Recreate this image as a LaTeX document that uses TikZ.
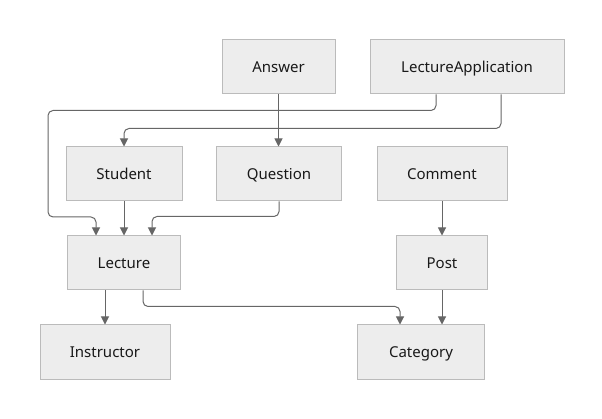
\documentclass[tikz,border=0pt]{standalone}
\usepackage{fontspec}
\setmainfont{Noto Sans}
\usetikzlibrary{arrows.meta}
\definecolor{bg}{HTML}{EDEDED}
\definecolor{bd}{HTML}{BBBBBB}
\definecolor{ln}{HTML}{666666}
\tikzset{
  ent/.style={draw=bd, fill=bg, line width=1pt, minimum height=54pt, inner sep=0pt,
    font=\fontsize{15}{17}\selectfont, text=black!90, text height=12pt, text depth=0.5pt},
  conn/.style={draw=ln, line width=1pt, -{Triangle[length=8pt,width=8pt]}, rounded corners=5pt}
}
\begin{document}
\begin{tikzpicture}[x=1pt,y=-1pt]
\useasboundingbox (0,0) rectangle (602,419);
\node[ent, minimum width=113pt] (answer) at (278.5,67) {Answer};
\node[ent, minimum width=194pt] (la) at (467,67) {LectureApplication};
\node[ent, minimum width=116pt] (student) at (124,174) {Student};
\node[ent, minimum width=125pt] (question) at (279,174) {Question};
\node[ent, minimum width=130pt] (comment) at (442,174) {Comment};
\node[ent, minimum width=113pt] (lecture) at (124,263) {Lecture};
\node[ent, minimum width=91pt] (post) at (442,263) {Post};
\node[ent, minimum width=130pt] (instructor) at (105,352) {Instructor};
\node[ent, minimum width=127pt] (category) at (421,352) {Category};
\coordinate (lbend) at (48,217);
\draw[conn] ([xshift=-31pt]la.south) -- ++(0,16) -| (lbend) -| ([xshift=-28pt]lecture.north);
\draw[conn] ([xshift=34pt]la.south) -- ++(0,34) -| (student.north);
\draw[conn] (answer.south) -- (answer.south |- question.north);
\draw[conn] (student.south) -- (lecture.north);
\draw[conn] (question.south) -- ++(0,15) -| ([xshift=28pt]lecture.north);
\draw[conn] (comment.south) -- (post.north);
\draw[conn] (instructor.north |- lecture.south) -- (instructor.north);
\draw[conn] ([xshift=19pt]lecture.south) -- ++(0,16) -| ([xshift=-21pt]category.north);
\draw[conn] (post.south) -- (post.south |- category.north);
\end{tikzpicture}
\end{document}
